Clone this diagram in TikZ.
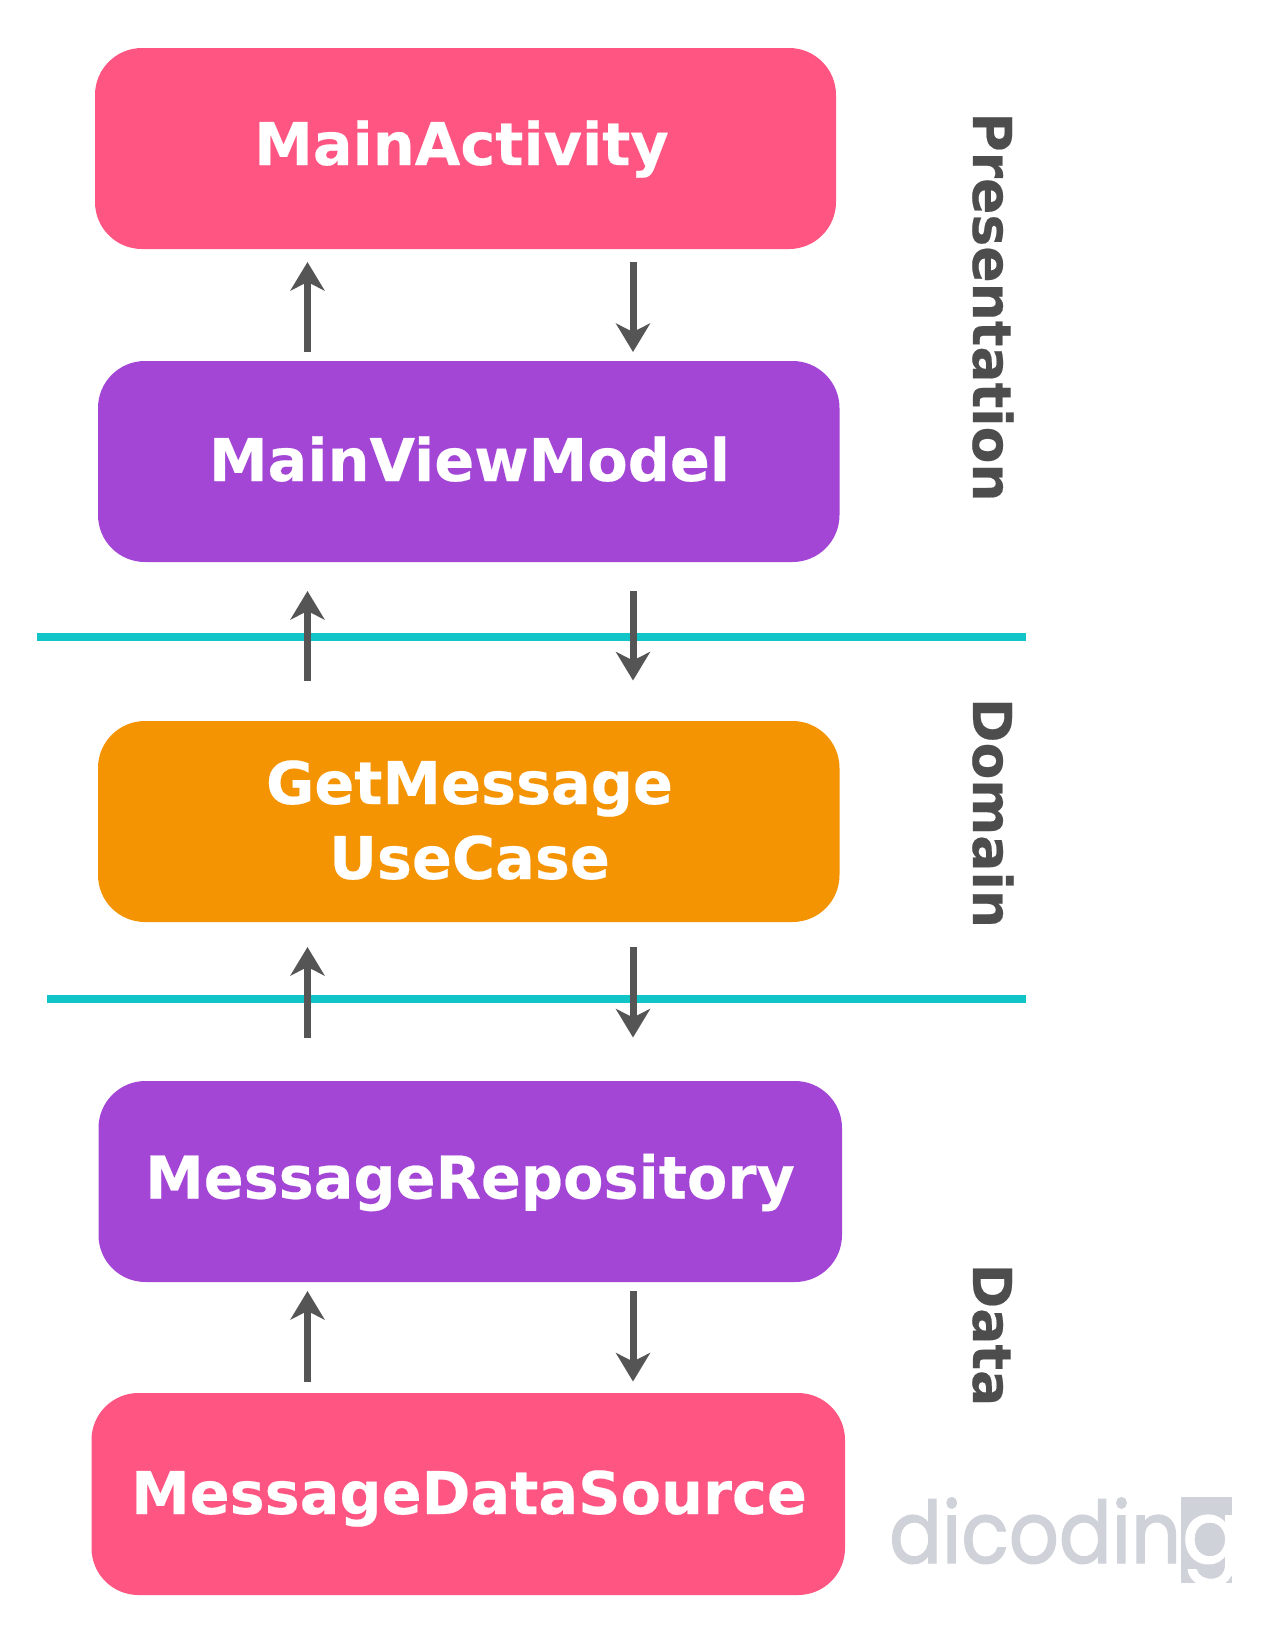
\documentclass[tikz,border=0pt]{standalone}
\usepackage{fontspec}
\setmainfont{DejaVu Sans}[BoldFeatures={FakeBold=0.35}]
\newfontfamily\logofont[FakeBold=1.6]{Poppins}
\usetikzlibrary{arrows.meta}
\definecolor{pinkbox}{HTML}{FF5582}
\definecolor{purplebox}{HTML}{A346D5}
\definecolor{orangebox}{HTML}{F59402}
\definecolor{tealline}{HTML}{10C4C8}
\definecolor{arrowgrey}{HTML}{555555}
\definecolor{labelgrey}{HTML}{4D4D4D}
\definecolor{logogrey}{HTML}{CFD2D8}
\tikzset{
  box/.style={draw=none,rounded corners=47pt,inner sep=0pt,outer sep=0pt},
  boxtext/.style={text=white,font=\bfseries\fontsize{58.9}{72}\selectfont,inner sep=0pt,anchor=base,align=center},
  layertext/.style={text=labelgrey,font=\bfseries\fontsize{53.6}{60}\selectfont,inner sep=0pt,rotate=-90,anchor=base},
  flow/.style={draw=arrowgrey,line width=7pt,-{Stealth[length=28.5pt,width=34pt,inset=8.5pt]}},
  sep/.style={draw=tealline,line width=7.3pt},
  logotext/.style={font=\logofont\fontsize{86}{86}\selectfont,inner sep=0pt,anchor=base west}
}
\newcommand{\bx}[7]{\node[box,fill=#6,minimum width=#3pt-#2pt,minimum height=#5pt-#4pt] (#1) at ({(#2+#3)/2},{(#4+#5)/2}) {};}
\begin{document}
\begin{tikzpicture}[x=1pt,y=-1pt]
\useasboundingbox (0,0) rectangle (1268,1626);
\fill[white] (0,0) rectangle (1268,1626);
% separators
\coordinate (s1l) at (37,637); \coordinate (s1r) at (1026,637);
\coordinate (s2l) at (47,999); \coordinate (s2r) at (1026,999);
\draw[sep] (s1l) -- (s1r);
\draw[sep] (s2l) -- (s2r);
% boxes
\bx{activity}{95}{836}{48}{249}{pinkbox}{}
\bx{viewmodel}{98}{839.5}{361}{562}{purplebox}{}
\bx{usecase}{98}{839.5}{721}{922}{orangebox}{}
\bx{repo}{98.5}{842}{1081}{1282}{purplebox}{}
\bx{source}{91.5}{845}{1393}{1595}{pinkbox}{}
% box texts
\node[boxtext] (tactivity) at (461.5,165) {MainActivity};
\node[boxtext] (tviewmodel) at (469.5,481) {MainViewModel};
\node[boxtext] (tgetmessage) at (469.5,804) {GetMessage};
\node[boxtext] (tusecase) at (469.5,879) {UseCase};
\node[boxtext] (trepo) at (470,1198.5) {MessageRepository};
\node[boxtext] (tsource) at (469,1514) {MessageDataSource};
% arrows
\coordinate (up) at (307.5,0);
\coordinate (down) at (633,0);
\draw[flow,shorten <=9pt,shorten >=13pt] (viewmodel.north -| up) -- (activity.south -| up);
\draw[flow,shorten <=13pt,shorten >=9pt] (activity.south -| down) -- (viewmodel.north -| down);
\draw[flow,shorten <=40.5pt,shorten >=29pt] (usecase.north -| up) -- (viewmodel.south -| up);
\draw[flow,shorten <=29pt,shorten >=40.5pt] (viewmodel.south -| down) -- (usecase.north -| down);
\draw[flow,shorten <=43.5pt,shorten >=25pt] (repo.north -| up) -- (usecase.south -| up);
\draw[flow,shorten <=25pt,shorten >=43.5pt] (usecase.south -| down) -- (repo.north -| down);
\draw[flow,shorten <=11.5pt,shorten >=9pt] (source.north -| up) -- (repo.south -| up);
\draw[flow,shorten <=9pt,shorten >=11.5pt] (repo.south -| down) -- (source.north -| down);
% layer labels
\node[layertext] (presentation) at (973,307) {Presentation};
\node[layertext] (domain) at (973,813) {Domain};
\node[layertext] (data) at (973,1335) {Data};
% logo
\node[fill=logogrey,minimum width=51pt,minimum height=86pt,inner sep=0pt] (logobg) at (1206.5,1540) {};
\node[logotext,text=logogrey,xscale=0.91] (logoa) at (889,1563) {dicodin};
\node[logotext,text=white] (logob) at (1182,1563) {g};
\end{tikzpicture}
\end{document}
